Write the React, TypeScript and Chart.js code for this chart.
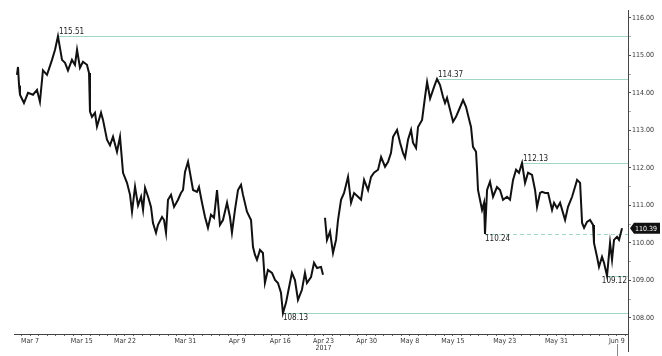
import React, { useEffect, useRef } from 'react';
import { Chart, registerables } from 'chart.js';

Chart.register(...registerables);

// Trading-day position (0 = Mar 6 2017, weekends removed) of each traced point
const days = [
  -0.51, -0.39, -0.27, -0.16, 0.30, 0.77, 1.35, 1.81, 2.15, 2.50, 2.97, 3.55, 3.90, 4.24, 4.71, 5.06, 5.40, 5.86,
  6.21, 6.45, 6.79, 7.14, 7.60, 7.84, 7.95, 8.18, 8.53, 8.76, 9.23, 9.46, 9.92, 10.27, 10.62, 11.08, 11.43,
  11.78, 12.24, 12.59, 12.82, 13.17, 13.52, 13.87, 14.10, 14.33, 14.68, 15.02, 15.25, 15.60, 15.83, 16.30,
  16.53, 16.76, 16.99, 17.34, 17.69, 18.15, 18.49, 18.73, 18.96, 19.31, 19.54, 19.89, 20.35, 20.58, 20.93,
  21.28, 21.62, 21.97, 22.32, 22.67, 23.01, 23.36, 23.83, 24.17, 24.40, 24.75, 25.10, 25.45, 25.68, 26.14,
  26.61, 26.84, 27.07, 27.30, 27.65, 27.99, 28.22, 28.57, 29.04, 29.39, 29.73, 30.08, 30.31, 30.66, 30.89,
  31.35, 31.70, 32.05, 32.51, 32.86, 33.09, 33.56, 33.91, 34.26, 34.72, 34.95, 35.05,
  35.18, 35.41, 35.76, 36.11, 36.46, 36.69, 37.04, 37.39, 37.85, 38.20, 38.55, 39.01, 39.36, 39.71, 40.17,
  40.52, 40.86, 41.33, 41.68, 42.14, 42.49, 42.83, 43.07, 43.53, 43.88, 44.22, 44.46, 44.80, 45.15, 45.38,
  45.73, 45.96, 46.43, 46.77, 47.01, 47.36, 47.82, 48.16, 48.51, 48.86, 49.09, 49.32, 49.67, 50.02, 50.36,
  50.71, 51.18, 51.52, 51.75, 52.10, 52.33, 52.68, 52.80, 52.91, 53.14, 53.38, 53.61, 53.72, 53.96, 54.30,
  54.65, 55.11, 55.46, 55.81, 56.27, 56.62, 56.97, 57.32, 57.66, 58.01, 58.36, 58.71, 59.17, 59.52, 59.75,
  60.10, 60.33, 60.68, 61.03, 61.49, 61.72, 62.07, 62.42, 62.76, 63.00, 63.34, 63.81, 64.15, 64.39, 64.74,
  64.97, 65.20, 65.54, 65.89, 66.24, 66.35, 66.70, 66.93, 67.28, 67.51, 67.86, 68.21, 68.44, 68.67, 69.02,
  69.25, 69.60,
];

// USD/JPY level at each traced point (null = weekend gap)
const closes: (number | null)[] = [
  114.48, 114.69, 114.2, 113.95, 113.73, 114.0, 113.95, 114.08, 113.76, 114.6, 114.48, 114.88, 115.15, 115.51,
  114.88, 114.8, 114.6, 114.88, 114.75, 115.15, 114.67, 114.83, 114.75, 114.53, 113.5, 113.36, 113.47, 113.1,
  113.47, 113.28, 112.75, 112.6, 112.83, 112.43, 112.83,
  111.87, 111.6, 111.28, 110.83, 111.5, 111.0, 111.23, 110.88, 111.47, 111.23, 110.96, 110.53, 110.27, 110.48,
  110.69, 110.61, 110.27, 111.15, 111.28, 110.96, 111.15, 111.33, 111.41, 111.89, 112.16, 111.87, 111.41,
  111.36, 111.49, 111.07, 110.69, 110.4, 110.75, 110.67, 111.41, 110.48, 110.61, 111.07, 110.69, 110.27,
  110.88, 111.41, 111.55, 111.28, 110.83, 110.61, 109.89, 109.68, 109.55, 109.81, 109.73, 108.93, 109.28,
  109.2, 109.01, 108.93, 108.67, 108.13, 108.4, 108.67, 109.2, 109.01, 108.48, 108.75, 109.2, 108.93, 109.09,
  109.47, 109.33, 109.36, 109.15, null,
  110.67, 110.08, 110.3, 109.73, 110.08, 110.61, 111.15, 111.33, 111.76, 111.07, 111.33, 111.23, 111.15,
  111.68, 111.41, 111.76, 111.87, 111.95, 112.29, 112.03, 112.16, 112.4, 112.83, 113.01, 112.67, 112.4,
  112.27, 112.75, 113.01, 112.67, 112.53, 113.09, 113.28, 113.89, 114.29, 113.85, 114.16, 114.37, 114.21,
  113.89, 113.73, 113.87, 113.55, 113.23, 113.36, 113.55, 113.81, 113.63, 113.41, 113.09, 112.56, 112.43,
  111.95, 111.41, 111.15, 110.88, 111.07, 110.24, 111.41, 111.63, 111.23, 111.49, 111.41, 111.15, 111.23,
  111.15, 111.68, 111.95, 111.87, 112.13, 111.6, 111.87, 111.81, 111.41, 110.96, 111.33, 111.36, 111.33,
  111.33, 110.88, 111.07, 110.93, 111.07, 110.8, 110.61, 110.96, 111.23, 111.49, 111.68, 111.6, 110.53,
  110.4, 110.56, 110.61, 110.48, 110.0, 109.63, 109.36, 109.63, 109.47, 109.12, 110.0, 109.55, 110.08,
  110.16, 110.08, 110.39,
];

const tickDays = [1, 7, 12, 19, 25, 30, 35, 40, 45, 50, 56, 62, 69];
const tickLabels = ['Mar 7', 'Mar 15', 'Mar 22', 'Mar 31', 'Apr 9', 'Apr 16', 'Apr 23', 'Apr 30', 'May 8', 'May 15', 'May 23', 'May 31', 'Jun 9'];
const yearLabel = '2017';
const yearDay = 35;
const markerDay = 69;

const levelValues = [115.51, 114.37, 112.13, 110.24, 108.13, 109.12];
const levelDays = [4.24, 48.16, 58.01, 53.72, 30.31, 67.86];
const levelDashed = [false, false, false, true, false, false];
const levelBelow = [false, false, false, true, true, true];

const lastValue = 110.39;

const FONT = "'DejaVu Sans Condensed', 'Liberation Sans Narrow', 'Liberation Sans', sans-serif";

const overlay = {
  id: 'overlay',
  beforeDatasetsDraw(chart: any) {
    const { ctx, scales, chartArea } = chart;
    const x = scales.x, y = scales.y;
    ctx.save();
    levelValues.forEach((v, i) => {
      const py = Math.round(y.getPixelForValue(v)) + 0.5;
      const px = x.getPixelForValue(levelDays[i]);
      ctx.strokeStyle = '#9fd8c0';
      ctx.lineWidth = 1;
      ctx.setLineDash(levelDashed[i] ? [4, 3] : []);
      ctx.beginPath();
      ctx.moveTo(px, py);
      ctx.lineTo(chartArea.right, py);
      ctx.stroke();
    });
    ctx.restore();
  },
  afterDatasetsDraw(chart: any) {
    const { ctx, scales, chartArea } = chart;
    const x = scales.x, y = scales.y;
    ctx.save();
    ctx.font = `8px ${FONT}`;
    ctx.fillStyle = '#222';
    levelValues.forEach((v, i) => {
      const py = y.getPixelForValue(v);
      let px = x.getPixelForValue(levelDays[i]);
      const txt = v.toFixed(2);
      const w = ctx.measureText(txt).width;
      ctx.textAlign = 'left';
      if (px + w > chartArea.right - 1) px = chartArea.right - 1 - w;
      if (levelBelow[i]) {
        ctx.textBaseline = 'top';
        ctx.fillText(txt, px, py + 1);
      } else {
        ctx.textBaseline = 'bottom';
        ctx.fillText(txt, px + 1, py);
      }
    });
    // extend right axis line below the plot
    ctx.strokeStyle = '#444';
    ctx.lineWidth = 1;
    const ax = Math.round(chartArea.right) + 0.5;
    ctx.beginPath();
    ctx.moveTo(ax, chartArea.bottom);
    ctx.lineTo(ax, 352);
    ctx.stroke();
    // last value tag on the axis
    const ly = y.getPixelForValue(lastValue);
    const bx = chartArea.right + 2;
    ctx.fillStyle = '#111';
    ctx.beginPath();
    ctx.moveTo(bx, ly);
    ctx.lineTo(bx + 4, ly - 5.5);
    ctx.lineTo(660, ly - 5.5);
    ctx.lineTo(660, ly + 5.5);
    ctx.lineTo(bx + 4, ly + 5.5);
    ctx.closePath();
    ctx.fill();
    ctx.fillStyle = '#fff';
    ctx.font = `7px ${FONT}`;
    ctx.textAlign = 'left';
    ctx.textBaseline = 'middle';
    ctx.fillText(lastValue.toFixed(2), bx + 5, ly + 0.5);
    // year label
    ctx.fillStyle = '#333';
    ctx.textAlign = 'center';
    ctx.font = `7px ${FONT}`;
    ctx.textBaseline = 'middle';
    ctx.fillText(yearLabel, x.getPixelForValue(yearDay), chartArea.bottom + 14);
    // current date marker below axis
    const mx = Math.round(x.getPixelForValue(markerDay)) + 0.5;
    ctx.strokeStyle = '#888';
    ctx.beginPath();
    ctx.moveTo(mx, chartArea.bottom + 10);
    ctx.lineTo(mx, 356);
    ctx.stroke();
    ctx.restore();
  },
};

export default function App() {
  const ref = useRef<HTMLCanvasElement>(null);
  useEffect(() => {
    if (!ref.current) return;
    const pts = days.map((d, i) => ({ x: d, y: closes[i] }));
    const chart = new Chart(ref.current, {
      type: 'line',
      data: {
        datasets: [
          {
            data: pts as any,
            borderColor: '#111',
            borderWidth: 2,
            pointRadius: 0,
            tension: 0,
            spanGaps: false,
          },
        ],
      },
      options: {
        animation: false,
        responsive: false,
        devicePixelRatio: 1,
        layout: { padding: { left: 14, top: 10, right: 0, bottom: 0 } },
        plugins: { legend: { display: false }, tooltip: { enabled: false } },
        scales: {
          x: {
            type: 'linear',
            min: -0.854,
            max: 70.29,
            afterBuildTicks: (s: any) => {
              const t = [];
              for (let d = 0; d <= 70; d++) t.push({ value: d });
              s.ticks = t;
            },
            afterFit: (s: any) => {
              s.height = 22;
            },
            border: { color: '#444', width: 1 },
            grid: { drawOnChartArea: false, tickLength: 2, color: '#666' },
            ticks: {
              autoSkip: false,
              maxRotation: 0,
              padding: 1,
              color: '#333',
              font: { size: 7, family: FONT },
              callback: (v: any) => {
                const i = tickDays.indexOf(Number(v));
                return i >= 0 ? tickLabels[i] : '';
              },
            },
          },
          y: {
            position: 'right',
            min: 107.57,
            max: 116.21,
            afterBuildTicks: (s: any) => {
              const t = [];
              for (let v = 108; v <= 116.001; v += 0.5) t.push({ value: Math.round(v * 10) / 10 });
              s.ticks = t;
            },
            afterFit: (s: any) => {
              s.width = 34;
            },
            border: { color: '#444', width: 1 },
            grid: {
              drawOnChartArea: false,
              tickLength: 3,
              color: (c: any) => (c.tick && c.tick.value % 1 !== 0 ? '#aaa' : '#555'),
            },
            ticks: {
              padding: 1,
              color: '#333',
              font: { size: 7, family: FONT },
              callback: (v: any) => (Number(v) % 1 === 0 ? Number(v).toFixed(2) : ''),
            },
          },
        },
      },
      plugins: [overlay],
    });
    return () => chart.destroy();
  }, []);
  return (
    <div style={{ position: 'fixed', left: 0, top: 0, width: 662, height: 356, background: '#fff' }}>
      <canvas ref={ref} width={662} height={356} style={{ width: 662, height: 356 }} />
    </div>
  );
}
